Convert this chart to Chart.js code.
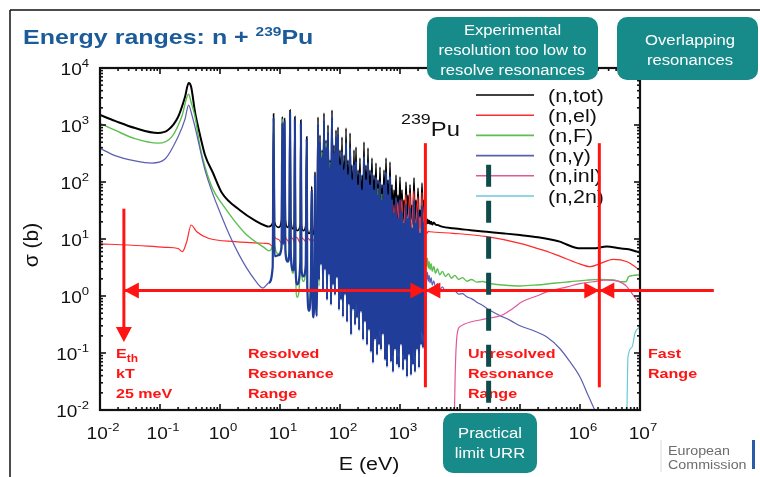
<!DOCTYPE html>
<html>
<head>
<meta charset="utf-8">
<script src="https://cdn.jsdelivr.net/npm/chart.js@4.4.1/dist/chart.umd.min.js"></script>
<style>
html,body{margin:0;padding:0;background:#fff;}
#wrap{position:relative;width:760px;height:477px;}
</style>
</head>
<body>
<div id="wrap"><canvas id="xs" width="760" height="477"></canvas></div>
<script>
// n + Pu-239 cross sections, energy in eV, sigma in barn

// thermal region and the 0.3 eV resonance
const totLowE = [0.01, 0.0178, 0.0383, 0.0926, 0.136, 0.2, 0.261, 0.3, 0.33, 0.383, 0.464, 0.562, 0.765, 1.08, 2.15, 3.98, 5.85];
const totLow  = [1500, 1180, 885, 724, 815, 1380, 3100, 5460, 4700, 1690, 668, 298, 144, 64, 32, 20.6, 16.9];
const capLowE = [0.01, 0.0178, 0.0383, 0.073, 0.12, 0.2, 0.26, 0.3, 0.34, 0.383, 0.562, 1.07, 2.02, 3.83, 5.2];
const capLow  = [390, 290, 235, 215, 250, 620, 1250, 2240, 1500, 930, 162, 24.5, 5.6, 1.9, 1.38];

// resolved resonances, shared grid for total and capture
const resE = [
  6.5, 7.55, 7.82, 8.1, 9.5, 10.6, 10.93, 11.3, 11.89, 12.3, 13.5, 14.3, 14.7, 15.1, 16.5, 17.3, 17.7, 18.1,
  19.3, 21.8, 22.3, 22.8, 24.5, 26.8, 27.9, 28.5, 30.5, 32.8, 33.8, 34.8, 36.2, 37.6, 38.3, 39.2, 41.5,
  43.0, 44.7, 46.4, 48.2, 50.1, 52.1, 54.1, 56.2, 58.5, 60.8, 63.1, 65.6, 68.1, 70.8, 73.6, 76.5, 79.4, 82.5,
  85.8, 89.1, 92.6, 96.2, 100, 104, 108, 112, 117, 121, 126, 131, 136, 142, 147, 153, 158, 165, 171, 178,
  185, 192, 200, 208, 215, 224, 233, 242, 251, 261, 271, 282, 293, 304, 316, 328, 341, 355, 369, 383,
  398, 414, 430, 447, 464, 482, 501, 521, 541, 562, 585, 608, 631, 656, 681, 708, 736, 764, 794, 825,
  858, 891, 926, 962, 1000, 1039, 1080, 1122, 1166, 1212, 1259, 1308, 1359, 1413, 1468, 1525, 1585, 1647,
  1711, 1778, 1848, 1920, 1995, 2073, 2154, 2238, 2326, 2417, 2512, 2610
];
const totRes = [
  16.5, 19, 1570, 20, 16, 22, 1400, 25, 1300, 22, 16, 22, 1830, 24, 15, 20, 1400, 18,
  14, 18, 1220, 18, 14, 17, 620, 15, 12.5, 16, 83, 14, 12, 18, 150, 16, 13,
  1380, 20, 668, 17, 364, 24, 1620, 19, 546, 22, 1000, 18, 243, 20, 1830, 17, 446, 24,
  817, 19, 922, 22, 364, 18, 616, 20, 298, 17, 885, 24, 243, 19, 724, 22, 199, 18, 364, 20,
  411, 17, 162, 24, 264, 19, 133, 22, 503, 18, 199, 20, 395, 17, 162, 24, 264, 19, 133, 22,
  215, 18, 108, 20, 183, 17, 89, 24, 162, 19, 264, 22, 108, 18, 224, 20, 89, 17, 72, 24,
  133, 19, 59, 22, 122, 18, 72, 20, 48, 17, 100, 24, 59, 19, 89, 22, 39, 18,
  118, 20, 48, 17, 78, 24, 32, 19, 96, 22, 48, 18
];
const capRes = [
  1.7, 3.2, 1350, 5, 5.2, 7, 1100, 8, 1150, 6, 4, 6, 1600, 6, 2.8, 5, 1250, 3.5,
  1.6, 4, 1050, 3, 2.2, 3.5, 560, 1.5, 0.55, 2.5, 70, 1.0, 0.42, 3, 130, 1.8, 0.45,
  1040, 1.91, 503, 3.5, 275, 1.27, 1220, 2.86, 411, 0.85, 754, 2.34, 183, 0.70, 1380, 1.56, 336, 1.04,
  616, 2.07, 695, 0.57, 207, 0.85, 350, 0.43, 169, 1.04, 503, 0.35, 138, 0.70, 411, 0.21, 113, 0.57, 207, 0.31,
  234, 0.41, 92, 0.25, 150, 0.52, 75, 0.17, 286, 0.35, 113, 0.138, 224, 0.25, 92, 0.104, 150, 0.067, 75, 0.17,
  122, 0.092, 62, 0.138, 104, 0.113, 50, 0.21, 92, 0.075, 150, 0.057, 62, 0.138, 127, 0.070, 50, 0.046, 30, 0.113,
  55, 0.062, 24, 0.055, 50, 0.138, 30, 0.050, 19.9, 0.075, 41, 0.038, 24, 0.092, 36, 0.041, 16.2, 0.062,
  48, 0.046, 19.9, 0.113, 32, 0.055, 13.3, 0.138, 39, 0.122, 19.9, 0.25
];

// unresolved and fast region
const totUrrE = [2700, 2780, 2870, 2960, 3060, 3170, 3300, 3450, 3650, 3900, 4300, 5000, 7600, 15000, 28000, 55000, 1e5, 2e5, 3.55e5, 4.6e5, 6e5, 1e6, 1.65e6, 2.8e6, 4.6e6, 6.5e6, 8.9e6, 1e7];
const totUrr  = [21, 18.5, 22, 19, 21, 18.5, 20, 18, 19.5, 18, 17.5, 16.5, 15.4, 14.3, 13.4, 12.5, 11.7, 10.7, 9.6, 9.0, 8.0, 6.85, 6.85, 7.35, 6.85, 6.6, 6.0, 5.75];
const capUrrE = [2700, 2780, 2870, 2960, 3060, 3170, 3300, 3450, 3650, 3900, 4200, 4600, 5100, 5700, 6400, 7200, 8200, 9500, 11000, 13000, 15500, 19000, 24000, 30000, 45000, 70000, 1e5, 1.7e5, 2.8e5, 4.6e5, 6.5e5, 1e6, 1.4e6, 1.8e6];
const capUrr  = [2.5, 1.9, 2.6, 1.8, 2.3, 1.7, 2.1, 1.55, 1.85, 1.45, 1.65, 1.3, 1.45, 1.2, 1.3, 1.2, 1.22, 1.08, 1.1, 0.97, 0.9, 0.78, 0.68, 0.58, 0.46, 0.37, 0.3, 0.245, 0.19, 0.12, 0.075, 0.038, 0.017, 0.0095];

const fisE = [
  0.01, 0.0178, 0.0383, 0.0938, 0.157, 0.23, 0.3, 0.33, 0.383, 0.464, 0.562, 0.76, 1.07, 2.61, 5.62,
  6.5, 7.55, 7.82, 8.1, 9.5, 10.6, 10.93, 11.3, 11.89, 12.3, 13.5, 14.3, 14.7, 15.1, 16.5, 17.3, 17.7, 18.1,
  19.3, 21.8, 22.3, 22.8, 24.5, 26.8, 27.9, 28.5, 30.5, 32.8, 33.8, 34.8, 36.2, 37.6, 38.3, 39.2, 41.5,
  43.0, 44.7, 50.1, 52.1, 58.5, 60.8, 68.1, 70.8, 79.4, 82.5, 92.6, 96.2, 108, 112, 126, 131, 147, 153,
  171, 178, 200, 208, 233, 242, 271, 282, 316, 328, 369, 383, 430, 447, 501, 521, 585, 608, 681, 708,
  794, 825, 926, 962, 1080, 1122, 1259, 1308, 1468, 1525, 1711, 1778, 1995, 2073, 2326, 2417,
  2700, 2780, 2870, 2960, 3060, 3170, 3300, 3450, 3650, 3900, 4200, 4600, 5100, 5700, 6400, 7200, 8200,
  9500, 11000, 13000, 15500, 19000, 24000, 30000, 52000, 1e5, 1.9e5, 3.6e5, 6.8e5, 1.29e6, 2.14e6,
  3.6e6, 5.2e6, 5.9e6, 6.4e6, 7.4e6, 1e7
];
const fisS = [
  1070, 810, 575, 480, 620, 1400, 3470, 2500, 1400, 420, 185, 75, 42, 12.6, 6.9,
  6.2, 8, 1250, 8, 5.5, 9, 1300, 10, 1000, 7, 4.5, 6, 1300, 7, 2.5, 5, 1000, 4,
  0.95, 4, 1000, 3, 1.8, 3, 400, 1.5, 0.8, 2, 45, 1.2, 0.9, 3, 90, 2, 1.5,
  817, 1.5, 336, 1.2, 483, 2.0, 224, 1.0, 243, 1.6, 546, 0.9, 243, 1.3, 364, 0.8, 298, 1.1,
  150, 0.7, 72, 1.0, 59, 0.6, 85, 0.9, 72, 0.5, 59, 0.8, 78, 0.45, 62, 0.7, 108, 0.4, 89, 0.6,
  23, 0.35, 19.9, 0.5, 21.5, 0.3, 30, 0.45, 26, 0.3, 32, 0.4, 23, 0.35, 27.5, 0.5,
  4.3, 3.4, 4.6, 3.1, 4.0, 2.9, 3.7, 2.7, 3.3, 2.5, 3.0, 2.35, 2.7, 2.2, 2.45, 2.05, 2.3,
  1.95, 2.1, 1.82, 1.95, 1.75, 1.8, 1.67, 1.56, 1.5, 1.56, 1.67, 1.78, 1.9, 1.96,
  1.91, 1.78, 1.8, 2.15, 2.28, 2.35
];

const elE = [
  0.01, 0.0298, 0.121, 0.2, 0.236, 0.279, 0.33, 0.41, 0.64, 1.78, 5.6,
  6.5, 7.55, 7.82, 8.1, 9.5, 10.6, 10.93, 11.3, 11.89, 12.3, 13.5, 14.3, 14.7, 15.1, 16.5, 17.3, 17.7, 18.1,
  19.3, 21.8, 22.3, 22.8, 24.5, 26.8, 27.9, 28.5, 30.5, 32.8, 33.8, 34.8, 36.2, 37.6, 38.3, 39.2, 41.5,
  43, 60, 85, 120, 170, 250, 360, 550, 760, 794, 825, 926, 962, 1080, 1122, 1259, 1308, 1468, 1525,
  1711, 1778, 1995, 2073, 2154, 2238, 2326, 2417, 2512, 2610,
  2700, 2800, 2950, 3162, 7640, 28200, 1e5, 2.5e5, 4.6e5, 8.9e5, 1.47e6, 2.15e6, 3.55e6, 6.1e6, 8.5e6, 1e7
];
const elS = [
  8.2, 7.85, 7.15, 6.8, 6.0, 9.0, 17.6, 13.4, 10.3, 9.0, 8.4,
  8.3, 7.5, 45, 11, 9.8, 8.5, 30, 12, 35, 11, 9.5, 8, 40, 12, 10, 8.5, 30, 11,
  10.5, 8.5, 30, 11, 10, 9, 25, 10.5, 10, 9, 15, 10, 9.5, 9, 18, 10, 9,
  10, 11.5, 9.5, 12, 10, 11, 10, 11.5, 11, 40, 11, 45, 12, 50, 11, 60, 12, 65, 12,
  70, 13, 55, 12, 25, 13, 65, 12, 38, 13,
  13.4, 12.5, 13.6, 13.4, 12.6, 11.0, 8.4, 6.3, 5.0, 3.8, 3.27, 3.7, 4.4, 4.0, 3.2, 2.8
];

const inlE = [8000, 8300, 8700, 9300, 10000, 11700, 15000, 28000, 52000, 75000, 1.1e5, 1.9e5, 2.8e5, 6.1e5, 1e6, 1.66e6, 2.6e6, 3.6e6, 5e6, 6.1e6, 7.4e6, 8.9e6, 1e7];
const inlS = [0.005, 0.04, 0.15, 0.26, 0.29, 0.32, 0.35, 0.40, 0.47, 0.6, 0.8, 1.0, 1.18, 1.45, 1.65, 1.78, 1.9, 1.88, 1.7, 1.45, 1.1, 0.85, 0.75];
const n2nE = [5.9e6, 6.07e6, 6.3e6, 7.36e6, 8.25e6, 1e7];
const n2nS = [0.004, 0.0113, 0.085, 0.127, 0.224, 0.286];

// axis decades
const xTickE = [1e-2, 1e-1, 1e0, 1e1, 1e2, 1e3, 1e4, 1e5, 1e6, 1e7];
const xTickExp = ['-2', '-1', '0', '1', '2', '3', '4', '5', '6', '7'];
const yTickS = [1e-2, 1e-1, 1e0, 1e1, 1e2, 1e3, 1e4];
const yTickExp = ['-2', '-1', '0', '1', '2', '3', '4'];

// range boundaries: thermal point, end of RRR, start of fast range, practical URR limit
const thermalE = 0.025;
const rrrEndE = 2650;
const fastE = 2.1e6;
const urrLimitE = 3e4;
const arrowS = 1.25;
const arrowEndE = 1.7e8;

const legendLabels = ['(n,tot)', '(n,el)', '(n,F)', '(n,\u03b3)', '(n,inl)', '(n,2n)'];
const colors = ['#000000', '#ff2a2a', '#5cbf4f', '#5a5fb0', '#e0579c', '#6cc8da'];

const SX = 1.19;
const FF = "'Liberation Sans', Arial, sans-serif";
const RED = '#ff1414';
const TEAL = '#178a8a';

const pts = (e, s) => e.map((v, i) => ({x: v, y: s[i]}));

function textW(ctx, s, font) {
  ctx.font = font;
  return ctx.measureText(s).width * SX;
}

function runs(ctx, parts, x, y, color, align) {
  let w = 0;
  parts.forEach(p => { w += textW(ctx, p[0], p[1]); });
  let cx = align === 'center' ? x - w / 2 : align === 'right' ? x - w : x;
  ctx.save();
  ctx.fillStyle = color;
  ctx.textAlign = 'left';
  ctx.textBaseline = 'alphabetic';
  parts.forEach(p => {
    ctx.font = p[1];
    ctx.save();
    ctx.translate(cx, y + (p[2] || 0));
    ctx.scale(SX, 1);
    ctx.fillText(p[0], 0, 0);
    ctx.restore();
    cx += textW(ctx, p[0], p[1]);
  });
  ctx.restore();
}

function seg(ctx, x1, y1, x2, y2) {
  ctx.beginPath(); ctx.moveTo(x1, y1); ctx.lineTo(x2, y2); ctx.stroke();
}

function tri(ctx, tipX, tipY, dx, dy, half) {
  // arrow head, tip at (tipX, tipY), pointing along (dx, dy)
  const bx = tipX - dx, by = tipY - dy;
  ctx.beginPath();
  ctx.moveTo(tipX, tipY);
  if (dy === 0) { ctx.lineTo(bx, by - half); ctx.lineTo(bx, by + half); }
  else { ctx.lineTo(bx - half, by); ctx.lineTo(bx + half, by); }
  ctx.closePath();
  ctx.fill();
}

function rbox(ctx, x, y, w, h, r) {
  ctx.beginPath();
  ctx.moveTo(x + r, y);
  ctx.arcTo(x + w, y, x + w, y + h, r);
  ctx.arcTo(x + w, y + h, x, y + h, r);
  ctx.arcTo(x, y + h, x, y, r);
  ctx.arcTo(x, y, x + w, y, r);
  ctx.closePath();
  ctx.fill();
}

const decor = {
  id: 'decor',
  afterDraw(chart) {
    const ctx = chart.ctx, xs = chart.scales.x, ys = chart.scales.y, ca = chart.chartArea;
    const X = v => xs.getPixelForValue(v), Y = v => ys.getPixelForValue(v);
    ctx.save();

    // plot frame with inward ticks
    ctx.strokeStyle = '#111';
    ctx.lineWidth = 2.2;
    ctx.strokeRect(ca.left, ca.top, ca.right - ca.left, ca.bottom - ca.top);
    ctx.lineWidth = 1.6;
    for (let d = -2; d < 7; d++) {
      for (let k = 1; k <= 9; k++) {
        const px = X(k * Math.pow(10, d));
        const len = k === 1 ? 6 : 3;
        seg(ctx, px, ca.bottom, px, ca.bottom - len);
        seg(ctx, px, ca.top, px, ca.top + len);
      }
    }
    for (let d = -2; d < 4; d++) {
      for (let k = 1; k <= 9; k++) {
        const py = Y(k * Math.pow(10, d));
        const len = k === 1 ? 6 : 3;
        seg(ctx, ca.left, py, ca.left + len, py);
        seg(ctx, ca.right, py, ca.right - len, py);
      }
    }

    // tick labels
    const big = '16px ' + FF, sup = '11px ' + FF;
    xTickE.forEach((v, i) => runs(ctx, [['10', big], [xTickExp[i], sup, -8]], X(v) + 3, 439, '#111', 'center'));
    yTickS.forEach((v, i) => runs(ctx, [['10', big], [yTickExp[i], sup, -8]], 89, Y(v) + 7, '#111', 'right'));

    // axis titles
    runs(ctx, [['E (eV)', '18px ' + FF]], 369, 470, '#111', 'center');
    ctx.save();
    ctx.translate(38, 245);
    ctx.rotate(-Math.PI / 2);
    ctx.font = '21px ' + FF;
    ctx.fillStyle = '#111';
    ctx.textAlign = 'center';
    ctx.fillText('\u03c3 (b)', 0, 0);
    ctx.restore();

    // range names
    const rb = 'bold 13.5px ' + FF;
    runs(ctx, [['E', rb], ['th', 'bold 10px ' + FF, 4]], 116, 358, RED, 'left');
    runs(ctx, [['kT', rb]], 116, 378, RED, 'left');
    runs(ctx, [['25 meV', rb]], 116, 398, RED, 'left');
    ['Resolved', 'Resonance', 'Range'].forEach((s, i) => runs(ctx, [[s, rb]], 248, 358 + 20 * i, RED, 'left'));
    ['Unresolved', 'Resonance', 'Range'].forEach((s, i) => runs(ctx, [[s, rb]], 468, 358 + 20 * i, RED, 'left'));
    ['Fast', 'Range'].forEach((s, i) => runs(ctx, [[s, rb]], 648, 358 + 20 * i, RED, 'left'));

    // legend
    legendLabels.forEach((s, i) => {
      const ly = 95 + 20.2 * i;
      ctx.strokeStyle = colors[i];
      ctx.lineWidth = 1.6;
      seg(ctx, 476, ly, 534, ly);
      runs(ctx, [[s, '18px ' + FF]], 548, ly + 6.5, '#111', 'left');
    });
    runs(ctx, [['239', '15px ' + FF, -12], ['Pu', '20px ' + FF]], 401, 136, '#111', 'left');

    // range boundaries and arrows
    ctx.strokeStyle = RED;
    ctx.fillStyle = RED;
    ctx.lineWidth = 3;
    const ay = Y(arrowS);
    seg(ctx, X(thermalE), ay, X(arrowEndE), ay);
    seg(ctx, X(thermalE), Y(34), X(thermalE), Y(0.156) - 12);
    tri(ctx, X(thermalE), Y(0.156), 0, 15, 8);
    seg(ctx, X(rrrEndE), Y(480), X(rrrEndE), Y(0.025));
    seg(ctx, X(fastE), Y(480), X(fastE), Y(0.025));
    tri(ctx, X(thermalE), ay, -15, 0, 8);
    tri(ctx, X(rrrEndE), ay, 15, 0, 8);
    tri(ctx, X(rrrEndE), ay, -15, 0, 8);
    tri(ctx, X(fastE), ay, 15, 0, 8);
    tri(ctx, X(fastE), ay, -15, 0, 8);

    // practical URR limit
    ctx.strokeStyle = '#0e4c4c';
    ctx.lineWidth = 5;
    ctx.setLineDash([22, 14]);
    seg(ctx, X(urrLimitE), Y(200), X(urrLimitE), Y(0.0133));
    ctx.setLineDash([]);

    // call-out boxes
    const bf = '14px ' + FF;
    ctx.fillStyle = TEAL;
    rbox(ctx, 427, 17, 171, 63, 10);
    rbox(ctx, 617, 17, 141, 63, 10);
    rbox(ctx, 443, 413, 94, 60, 10);
    ['Experimental', 'resolution too low to', 'resolve resonances'].forEach((s, i) => runs(ctx, [[s, bf]], 512.5, 35 + 20 * i, '#fff', 'center'));
    ['Overlapping', 'resonances'].forEach((s, i) => runs(ctx, [[s, bf]], 690, 45 + 20 * i, '#fff', 'center'));
    ['Practical', 'limit URR'].forEach((s, i) => runs(ctx, [[s, bf]], 490, 438 + 20 * i, '#fff', 'center'));

    // slide title and border
    const tf = 'bold 21px ' + FF;
    runs(ctx, [['Energy ranges: n + ', tf], ['239', 'bold 13px ' + FF, -8], ['Pu', tf]], 23, 44, '#1b5b9a', 'left');
    ctx.strokeStyle = '#111';
    ctx.lineWidth = 1.5;
    seg(ctx, 10, 10, 760, 10);
    seg(ctx, 10, 10, 10, 477);

    // footer mark
    ctx.strokeStyle = '#dcdcdc';
    ctx.lineWidth = 1;
    seg(ctx, 661, 440, 661, 472);
    runs(ctx, [['European', '12px ' + FF]], 668, 455, '#6d6d6d', 'left');
    runs(ctx, [['Commission', '12px ' + FF]], 668, 469, '#6d6d6d', 'left');
    ctx.fillStyle = '#2a5ba8';
    ctx.fillRect(752, 440, 3, 29);

    ctx.restore();
  }
};

// inside the resonance range the capture trace is drawn darker and heavier
const inRes = c => c.p0.parsed.x >= 6.5 && c.p1.parsed.x <= 2700;

const line = (label, data, color, width, order, extra) => Object.assign({
  label: label,
  data: data,
  borderColor: color,
  borderWidth: width,
  pointRadius: 0,
  fill: false,
  cubicInterpolationMode: 'monotone',
  order: order
}, extra || {});

const datasets = [
  line('(n,tot)', pts([...totLowE, ...resE, ...totUrrE], [...totLow, ...totRes, ...totUrr]), colors[0], 2, 6, {
    segment: {borderWidth: c => inRes(c) ? 1.6 : 2}
  }),
  line('(n,el)', pts(elE, elS), colors[1], 1.2, 5),
  line('(n,F)', pts(fisE, fisS), colors[2], 1.4, 4),
  line('(n,\u03b3)', pts([...capLowE, ...resE, ...capUrrE], [...capLow, ...capRes, ...capUrr]), colors[3], 1.2, 3, {
    segment: {
      borderColor: c => inRes(c) ? '#1f3d99' : colors[3],
      borderWidth: c => inRes(c) ? 2.2 : 1.2
    }
  }),
  line('(n,inl)', pts(inlE, inlS), colors[4], 1.2, 2),
  line('(n,2n)', pts(n2nE, n2nS), colors[5], 1.2, 1)
];

new Chart(document.getElementById('xs'), {
  type: 'line',
  data: {datasets: datasets},
  options: {
    responsive: false,
    animation: false,
    layout: {padding: {left: 100, top: 68, right: 120, bottom: 67}},
    scales: {
      x: {type: 'logarithmic', min: 1e-2, max: 1e7, display: false},
      y: {type: 'logarithmic', min: 1e-2, max: 1e4, display: false}
    },
    plugins: {legend: {display: false}, tooltip: {enabled: false}}
  },
  plugins: [decor]
});
</script>
</body>
</html>
